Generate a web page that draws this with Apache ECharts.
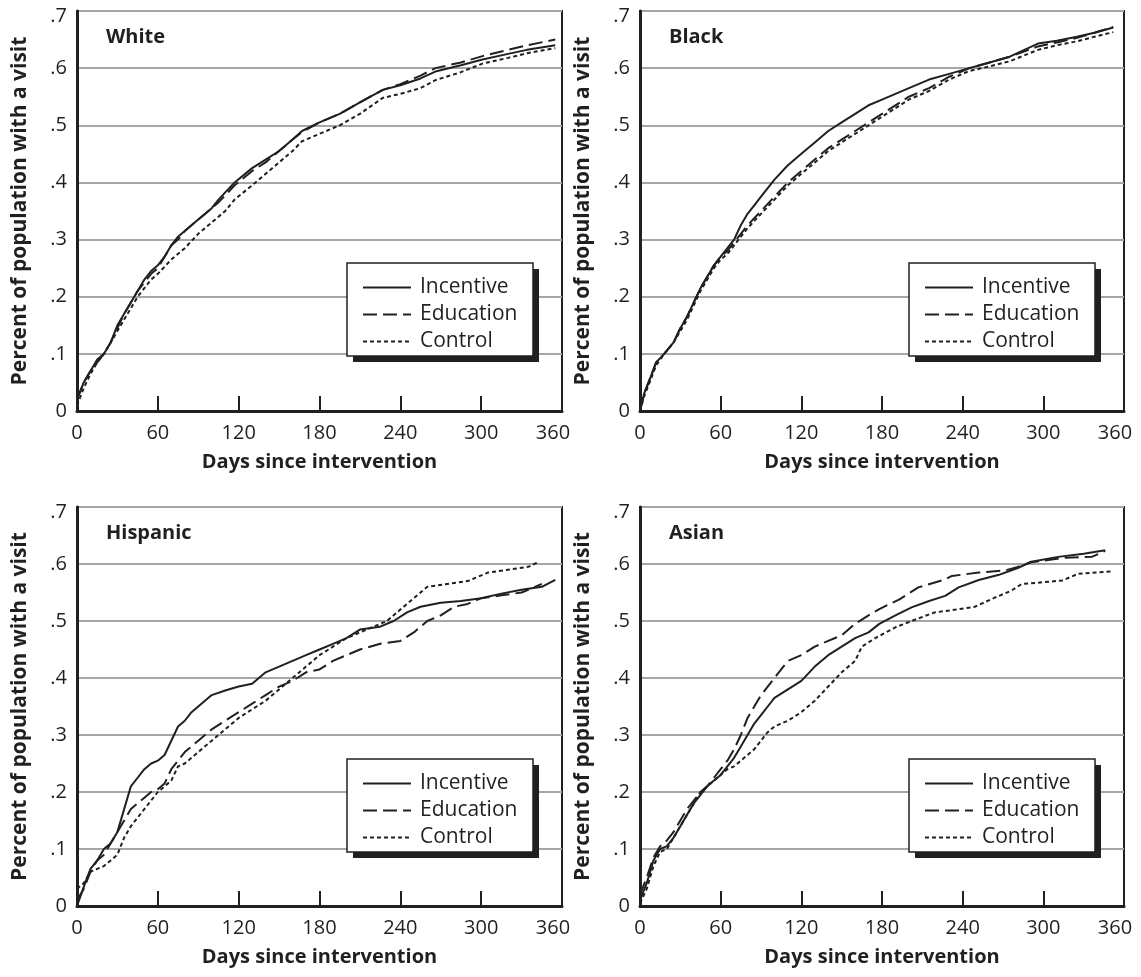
<!DOCTYPE html>
<html>
<head>
<meta charset="utf-8">
<script src="https://cdn.jsdelivr.net/npm/echarts@6/dist/echarts.min.js"></script>
<style>
  body { margin: 0; background: #fff; }
  #chart { width: 1141px; height: 977px; }
</style>
</head>
<body>
<div id="chart"></div>
<script>
  // panel names and legend entries
  const panels = ['White', 'Black', 'Hispanic', 'Asian']
  const groups = ['Incentive', 'Education', 'Control']

  // [day, share with a visit]
  const whiteIncentive = [[0,0.02],[5,0.05],[10,0.07],[15,0.09],[20,0.1],[25,0.12],[30,0.15],[35,0.17],[40,0.19],[45,0.21],[50,0.23],[55,0.245],[60,0.255],[65,0.27],[70,0.29],[75,0.305],[80,0.315],[90,0.335],[100,0.355],[105,0.37],[117,0.4],[130,0.425],[140,0.44],[150,0.455],[160,0.475],[167,0.49],[180,0.505],[195,0.52],[210,0.54],[227,0.562],[240,0.57],[255,0.582],[266,0.594],[285,0.605],[301,0.615],[320,0.625],[334,0.632],[355,0.64]]
  const whiteEducation = [[0,0.02],[5,0.05],[10,0.07],[15,0.085],[20,0.1],[25,0.12],[30,0.145],[35,0.17],[40,0.19],[45,0.21],[50,0.225],[55,0.24],[60,0.25],[65,0.27],[70,0.29],[75,0.3],[80,0.315],[90,0.335],[100,0.355],[105,0.365],[117,0.395],[130,0.42],[140,0.435],[150,0.455],[160,0.475],[167,0.488],[180,0.505],[195,0.52],[210,0.54],[227,0.562],[240,0.572],[255,0.587],[266,0.6],[285,0.61],[301,0.621],[320,0.632],[334,0.64],[355,0.65]]
  const whiteControl = [[0,0.01],[5,0.04],[10,0.065],[15,0.085],[20,0.1],[25,0.12],[30,0.14],[35,0.16],[40,0.18],[45,0.2],[50,0.215],[55,0.23],[60,0.24],[70,0.265],[80,0.285],[90,0.31],[100,0.33],[110,0.35],[117,0.37],[130,0.395],[140,0.415],[150,0.435],[160,0.455],[167,0.472],[180,0.485],[195,0.5],[210,0.52],[227,0.548],[240,0.555],[255,0.565],[266,0.579],[285,0.593],[301,0.608],[320,0.618],[334,0.626],[355,0.635]]

  const blackIncentive = [[0,0],[3,0.03],[8,0.06],[12,0.085],[18,0.1],[25,0.12],[30,0.145],[35,0.165],[40,0.19],[45,0.215],[50,0.235],[55,0.255],[60,0.27],[65,0.285],[70,0.3],[75,0.325],[80,0.345],[85,0.36],[90,0.375],[95,0.39],[100,0.405],[110,0.43],[120,0.45],[130,0.47],[140,0.49],[150,0.505],[160,0.52],[170,0.535],[180,0.545],[190,0.555],[200,0.565],[215,0.58],[230,0.59],[245,0.6],[260,0.61],[275,0.62],[296,0.643],[310,0.648],[325,0.655],[338,0.662],[352,0.671]]
  const blackEducation = [[0,0],[3,0.03],[8,0.06],[12,0.085],[18,0.1],[25,0.12],[30,0.145],[35,0.165],[40,0.19],[45,0.215],[50,0.235],[55,0.255],[60,0.27],[65,0.28],[70,0.295],[75,0.31],[80,0.325],[90,0.35],[100,0.375],[110,0.4],[120,0.42],[130,0.44],[140,0.46],[150,0.475],[160,0.49],[170,0.505],[180,0.52],[190,0.535],[200,0.55],[215,0.565],[230,0.585],[245,0.6],[260,0.61],[275,0.62],[296,0.638],[310,0.645],[325,0.653],[338,0.662],[352,0.672]]
  const blackControl = [[0,0],[3,0.025],[8,0.055],[12,0.08],[18,0.1],[25,0.12],[30,0.14],[35,0.16],[40,0.185],[45,0.21],[50,0.23],[55,0.25],[60,0.265],[65,0.275],[70,0.29],[75,0.305],[80,0.32],[90,0.345],[100,0.37],[110,0.395],[120,0.415],[130,0.435],[140,0.455],[150,0.47],[160,0.485],[170,0.5],[180,0.515],[190,0.53],[200,0.545],[215,0.56],[230,0.58],[245,0.595],[260,0.603],[275,0.612],[296,0.632],[310,0.64],[325,0.647],[338,0.655],[352,0.663]]

  const hispanicIncentive = [[0,0],[3,0.02],[6,0.04],[10,0.065],[15,0.08],[20,0.1],[25,0.11],[30,0.13],[35,0.17],[40,0.21],[45,0.225],[50,0.24],[55,0.25],[60,0.255],[65,0.265],[70,0.29],[75,0.315],[80,0.325],[85,0.34],[90,0.35],[95,0.36],[100,0.37],[110,0.378],[120,0.385],[130,0.39],[135,0.4],[140,0.41],[150,0.42],[160,0.43],[170,0.44],[180,0.45],[190,0.46],[200,0.47],[210,0.485],[225,0.49],[235,0.5],[245,0.515],[255,0.525],[270,0.532],[285,0.535],[300,0.54],[315,0.548],[330,0.555],[345,0.56],[355,0.572]]
  const hispanicEducation = [[0,0.01],[5,0.03],[10,0.06],[15,0.08],[20,0.09],[25,0.11],[30,0.13],[35,0.15],[40,0.17],[45,0.18],[50,0.19],[55,0.2],[60,0.205],[65,0.215],[70,0.24],[75,0.255],[80,0.27],[90,0.29],[100,0.31],[110,0.325],[120,0.34],[130,0.355],[140,0.37],[150,0.385],[160,0.395],[170,0.41],[180,0.415],[190,0.43],[200,0.44],[210,0.45],[225,0.46],[240,0.465],[250,0.48],[260,0.5],[270,0.51],[280,0.525],[290,0.53],[300,0.54],[315,0.545],[330,0.55],[345,0.565]]
  const hispanicControl = [[0,0.03],[5,0.04],[10,0.06],[15,0.065],[20,0.07],[25,0.08],[30,0.09],[35,0.12],[40,0.14],[45,0.155],[50,0.17],[55,0.185],[60,0.2],[65,0.21],[70,0.22],[75,0.245],[80,0.25],[90,0.27],[100,0.29],[110,0.31],[120,0.33],[130,0.345],[140,0.36],[150,0.38],[160,0.4],[170,0.42],[180,0.44],[190,0.455],[200,0.47],[210,0.48],[220,0.49],[230,0.5],[240,0.52],[250,0.54],[260,0.56],[275,0.565],[290,0.57],[305,0.585],[320,0.59],[335,0.595],[342,0.603]]

  const asianIncentive = [[0,0.01],[5,0.04],[10,0.08],[15,0.1],[20,0.105],[25,0.12],[30,0.14],[35,0.16],[40,0.18],[45,0.195],[50,0.21],[55,0.22],[60,0.23],[65,0.245],[70,0.26],[75,0.28],[80,0.3],[85,0.32],[90,0.335],[95,0.35],[100,0.365],[110,0.38],[120,0.395],[130,0.42],[140,0.44],[150,0.455],[160,0.47],[170,0.48],[178,0.495],[190,0.51],[202,0.524],[215,0.535],[227,0.544],[237,0.559],[252,0.572],[267,0.581],[281,0.593],[291,0.604],[311,0.6125],[330,0.618],[346,0.624]]
  const asianEducation = [[0,0.02],[5,0.05],[10,0.085],[15,0.105],[20,0.115],[25,0.13],[30,0.15],[35,0.17],[40,0.185],[45,0.2],[50,0.21],[55,0.225],[60,0.24],[65,0.255],[70,0.275],[75,0.3],[80,0.33],[85,0.35],[90,0.37],[95,0.385],[100,0.4],[105,0.415],[110,0.43],[120,0.44],[130,0.455],[140,0.465],[150,0.475],[160,0.495],[170,0.51],[178,0.521],[193,0.538],[207,0.559],[227,0.573],[232,0.579],[252,0.585],[272,0.589],[281,0.595],[291,0.603],[316,0.611],[336,0.6125],[346,0.623]]
  const asianControl = [[0,0.005],[5,0.03],[10,0.07],[15,0.095],[20,0.1],[25,0.12],[30,0.14],[35,0.16],[40,0.18],[45,0.2],[50,0.21],[55,0.22],[60,0.23],[65,0.24],[70,0.245],[75,0.255],[80,0.265],[85,0.275],[90,0.29],[95,0.305],[100,0.315],[110,0.325],[120,0.34],[130,0.36],[140,0.385],[150,0.41],[160,0.43],[165,0.455],[175,0.47],[190,0.489],[202,0.5],[219,0.515],[235,0.52],[249,0.525],[263,0.54],[276,0.553],[284,0.565],[300,0.568],[314,0.571],[326,0.583],[350,0.587]]

  const panelData = [
    [whiteIncentive, whiteEducation, whiteControl],
    [blackIncentive, blackEducation, blackControl],
    [hispanicIncentive, hispanicEducation, hispanicControl],
    [asianIncentive, asianEducation, asianControl]
  ]

  const ink = '#231f20'
  const font = 'Open Sans'
  const dashes = ['solid', [14, 6], [4, 3]]

  // plot boxes
  const boxes = [
    {left: 77, top: 11, width: 485, height: 400},
    {left: 640, top: 11, width: 484, height: 400},
    {left: 77, top: 507, width: 485, height: 399},
    {left: 640, top: 507, width: 484, height: 399}
  ]

  let chart = echarts.init(document.getElementById('chart'))

  let grid = [], xAxis = [], yAxis = [], series = [], title = [], legend = [], graphic = []

  boxes.forEach((b, i) => {
    grid.push({
      left: b.left, top: b.top, width: b.width, height: b.height,
      show: true, borderColor: ink, borderWidth: 2, backgroundColor: 'transparent'
    })
    xAxis.push({
      gridIndex: i, type: 'value', min: 0, max: 360, interval: 60,
      name: 'Days since intervention', nameLocation: 'middle', nameGap: 41,
      nameTextStyle: {fontFamily: font, fontWeight: 'bold', fontSize: 20, color: ink},
      axisLine: {lineStyle: {color: ink, width: 3}},
      axisTick: {inside: true, length: 15, lineStyle: {color: ink, width: 2}},
      axisLabel: {
        fontFamily: font, fontSize: 20, color: ink, margin: 12,
        // last label sits a little to the left in the original
        formatter: v => v === 360 ? '{end|360}' : String(v),
        rich: {end: {fontFamily: font, fontSize: 20, color: ink, padding: [0, 18, 0, 0]}}
      },
      splitLine: {show: false}
    })
    yAxis.push({
      gridIndex: i, type: 'value', min: 0, max: 0.7, interval: 0.1,
      name: 'Percent of population with a visit', nameLocation: 'middle', nameGap: 46,
      nameTextStyle: {fontFamily: font, fontWeight: 'bold', fontSize: 21, color: ink},
      axisLine: {show: true, lineStyle: {color: ink, width: 3}},
      axisTick: {show: false},
      axisLabel: {
        fontFamily: font, fontSize: 20, color: ink, margin: 10,
        formatter: v => {
          if (v === 0) return '0'
          let s = v.toFixed(1).replace(/^0/, '')
          return v > 0.65 ? '{top|' + s + '}' : s
        },
        rich: {top: {fontFamily: font, fontSize: 20, color: ink, padding: [10, 0, 0, 0]}}
      },
      splitLine: {lineStyle: {color: '#a6a6a6', width: 2}}
    })
    title.push({
      text: panels[i], left: b.left + 29, top: b.top + 16, padding: 0,
      textStyle: {fontFamily: font, fontWeight: 'bold', fontSize: 20, color: ink}
    })

    // legend frame with its hard drop shadow
    let lx = b.left + b.width - 215, ly = b.top + 252
    graphic.push({
      type: 'rect', x: lx + 6, y: ly + 6, z: 20,
      shape: {width: 186, height: 93}, style: {fill: ink}
    })
    graphic.push({
      type: 'rect', x: lx, y: ly, z: 21,
      shape: {width: 186, height: 93}, style: {fill: '#fff', stroke: ink, lineWidth: 1.5}
    })
    legend.push({
      data: groups, orient: 'vertical', z: 30,
      left: lx + 15, top: ly + 14,
      itemWidth: 48, itemHeight: 14, itemGap: 6, padding: 0,
      itemStyle: {opacity: 0},
      textStyle: {fontFamily: font, fontSize: 21, color: ink, padding: [0, 0, 0, 4]}
    })
    panelData[i].forEach((d, k) => {
      series.push({
        name: groups[k], type: 'line', xAxisIndex: i, yAxisIndex: i,
        data: d, symbol: 'none', silent: true, z: 3 - k,
        itemStyle: {color: ink},
        lineStyle: {color: ink, width: 2, type: dashes[k]}
      })
    })
  })

  chart.setOption({
    backgroundColor: '#fff',
    animation: false,
    title, legend, grid, xAxis, yAxis, series, graphic
  })
</script>
</body>
</html>
